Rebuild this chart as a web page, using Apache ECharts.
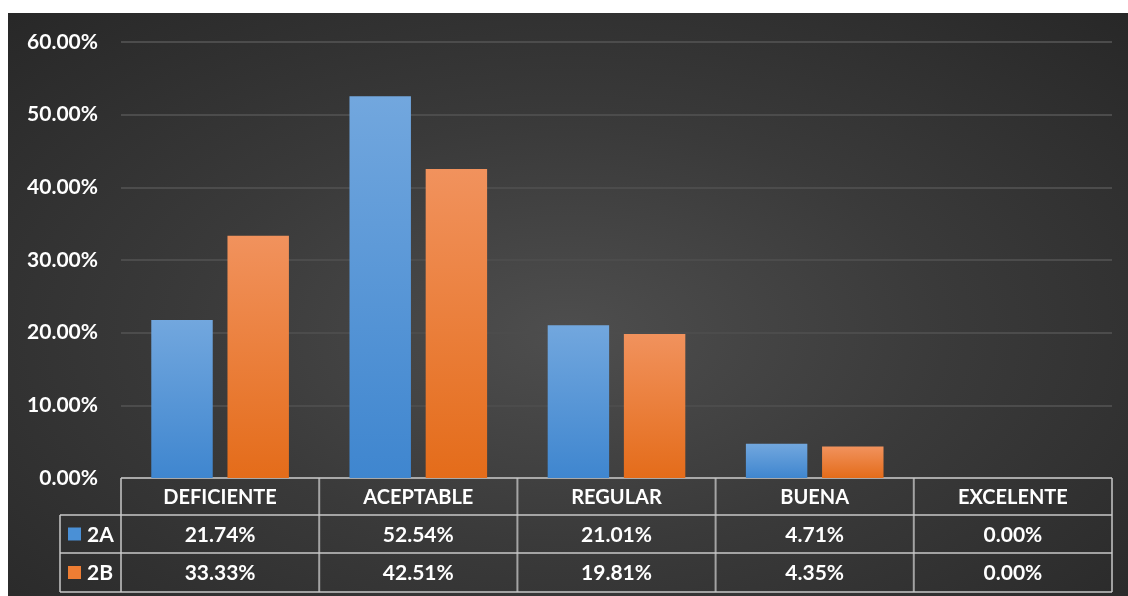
<!DOCTYPE html>
<html>
<head>
<meta charset="utf-8">
<script src="https://cdn.jsdelivr.net/npm/echarts@6/dist/echarts.min.js"></script>
<style>
html,body{margin:0;padding:0;background:#fff;}
#bg{position:absolute;left:8px;top:13px;width:1120px;height:583px;
background:radial-gradient(ellipse 75% 80% at 50% 55%, #4e4e4e 0%, #3a3a3a 45%, #262626 100%);}
#chart{position:absolute;left:0;top:0;width:1128px;height:596px;}
</style>
</head>
<body>
<div id="bg"></div>
<div id="chart"></div>
<script>
var categories = ['DEFICIENTE', 'ACEPTABLE', 'REGULAR', 'BUENA', 'EXCELENTE'];
var seriesNames = ['2A', '2B'];
var values2A = [21.74, 52.54, 21.01, 4.71, 0.00];
var values2B = [33.33, 42.51, 19.81, 4.35, 0.00];
var yTicks = [0, 10, 20, 30, 40, 50, 60];

var FONT = 'Lato';
var blueGrad = new echarts.graphic.LinearGradient(0,0,0,1,[{offset:0,color:'#72a7de'},{offset:1,color:'#3f86cf'}]);
var orangeGrad = new echarts.graphic.LinearGradient(0,0,0,1,[{offset:0,color:'#f1925d'},{offset:1,color:'#e46c1a'}]);
var keyColors = ['#4a90d6', '#ee7d33'];

var chart = echarts.init(document.getElementById('chart'));
var option = {
  animation: false,
  grid: {left: 121, right: 16, top: 42, bottom: 118},
  xAxis: {
    type: 'category', data: categories,
    axisLine: {show: false}, axisTick: {show: false}, axisLabel: {show: false}
  },
  yAxis: {
    type: 'value', min: yTicks[0], max: yTicks[yTicks.length-1], interval: 10,
    axisLine: {show: false}, axisTick: {show: false},
    axisLabel: {color: '#ffffff', fontFamily: FONT, fontWeight: 'bold', fontSize: 21, margin: 23,
      formatter: function(v){ return v.toFixed(2) + '%'; }},
    splitLine: {lineStyle: {color: '#4c4c4c', width: 2}}
  },
  series: [
    {name: seriesNames[0], type: 'bar', data: values2A, barWidth: '31%', barGap: '24%',
     itemStyle: {color: blueGrad, shadowColor: 'rgba(0,0,0,0.45)', shadowBlur: 6, shadowOffsetX: 2, shadowOffsetY: 2}},
    {name: seriesNames[1], type: 'bar', data: values2B, barWidth: '31%',
     itemStyle: {color: orangeGrad, shadowColor: 'rgba(0,0,0,0.45)', shadowBlur: 6, shadowOffsetX: 2, shadowOffsetY: 2}}
  ]
};
chart.setOption(option);

// Build data table under the axis from the data arrays
var x0 = chart.convertToPixel({xAxisIndex: 0}, categories[0]);
var x1 = chart.convertToPixel({xAxisIndex: 0}, categories[1]);
var band = x1 - x0;
var tableLeft = x0 - band / 2;
var tableRight = tableLeft + band * categories.length;
var yTop = chart.convertToPixel({yAxisIndex: 0}, 0);
var rowH = [37, 38, 39];
var rowY = [yTop, yTop + rowH[0], yTop + rowH[0] + rowH[1], yTop + rowH[0] + rowH[1] + rowH[2]];
var keyLeft = 60;
var lineStyle = {stroke: 'rgba(200,200,200,0.75)', lineWidth: 2};
var els = [];
function line(xa, ya, xb, yb){ els.push({type:'line', shape:{x1:xa,y1:ya,x2:xb,y2:yb}, style: lineStyle, silent:true}); }
line(tableLeft, rowY[0], tableRight, rowY[0]);
for (var r = 1; r < 4; r++) line(keyLeft, rowY[r], tableRight, rowY[r]);
line(keyLeft, rowY[1], keyLeft, rowY[3]);
for (var c = 0; c <= categories.length; c++) {
  var xc = tableLeft + band * c;
  line(xc, rowY[0], xc, rowY[3]);
}
var txtStyle = function(t, x, y, align, size){
  return {type:'text', x:x, y:y, style:{text:t, fill:'#ffffff', font:'bold ' + (size || 21) + 'px ' + FONT, textAlign: align || 'center', textVerticalAlign:'middle'}, silent:true};
};
categories.forEach(function(cat, i){
  var cx = chart.convertToPixel({xAxisIndex: 0}, cat);
  els.push(txtStyle(cat, cx, (rowY[0] + rowY[1]) / 2 + 1, 'center', 20));
  els.push(txtStyle(values2A[i].toFixed(2) + '%', cx, (rowY[1] + rowY[2]) / 2 + 1));
  els.push(txtStyle(values2B[i].toFixed(2) + '%', cx, (rowY[2] + rowY[3]) / 2 + 1));
});
seriesNames.forEach(function(name, s){
  var cy = (rowY[s+1] + rowY[s+2]) / 2;
  els.push({type:'rect', shape:{x:68, y:cy-6.5, width:13, height:13}, style:{fill: keyColors[s]}, silent:true});
  els.push(txtStyle(name, 87, cy + 1, 'left'));
});
chart.setOption({graphic: els});
</script>
</body>
</html>
